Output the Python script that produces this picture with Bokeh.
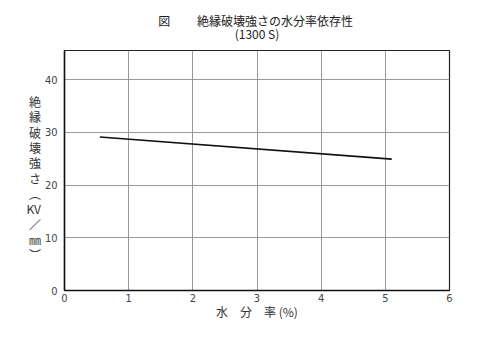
from bokeh.plotting import figure
from bokeh.models import Range1d, FixedTicker, Title
from bokeh.embed import file_html
from bokeh.resources import INLINE

water = [0.55, 5.10]
strength = [29.1, 24.9]
x_ticks = [0, 1, 2, 3, 4, 5, 6]
y_ticks = [0, 10, 20, 30, 40]
title_main = "図　　  絶縁破壊強さの水分率依存性"
title_sub = "(1300 S)"
ylabel_chars = ["絶", "縁", "破", "壊", "強", "さ", "︵", "KV", "／", "㎜", "︶"]
xlabel = "水　分　率 (%)"

JP = "Noto Sans CJK JP"
NUM = "DejaVu Sans Condensed"

p = figure(width=500, height=340, output_backend="svg", toolbar_location=None,
           title=None,
           x_range=Range1d(0, 6), y_range=Range1d(0, 45.5),
           min_border_left=64, min_border_right=51, min_border_top=0, min_border_bottom=50)
p.background_fill_color = "white"
p.border_fill_color = "white"
p.outline_line_color = "#222222"
p.outline_line_width = 1.2

for ax, ticks in ((p.xaxis, x_ticks), (p.yaxis, y_ticks)):
    ax.ticker = FixedTicker(ticks=ticks)
    ax.axis_line_color = "#111111"
    ax.axis_line_width = 1.5
    ax.major_tick_line_color = None
    ax.minor_tick_line_color = None
    ax.major_label_text_font = NUM
    ax.major_label_text_font_size = "11px"
    ax.major_label_text_color = "#444444"
    ax.axis_label_text_font = JP
    ax.axis_label_text_font_size = "12px"
    ax.axis_label_text_font_style = "normal"
    ax.axis_label_text_color = "#333333"

p.xaxis.major_label_standoff = -3
p.yaxis.major_label_standoff = 1
p.xaxis.axis_label = xlabel
p.xaxis.axis_label_standoff = -2
p.yaxis.axis_label = "\n".join([" "] + ylabel_chars)
p.yaxis.axis_label_orientation = "horizontal"
p.yaxis.axis_label_text_align = "center"
p.yaxis.axis_label_text_line_height = 0.9
p.yaxis.axis_label_standoff = 1

p.xgrid.ticker = FixedTicker(ticks=x_ticks)
p.ygrid.ticker = FixedTicker(ticks=y_ticks)
p.grid.grid_line_color = "#999999"
p.grid.grid_line_width = 1

p.line(water, strength, line_color="#111111", line_width=1.6)

title = Title(text=title_main + "\n" + title_sub, align="center", text_align="center",
              text_font=JP, text_font_size="12px", text_line_height=0.75,
              text_font_style="normal", text_color="#222222", standoff=18)
p.add_layout(title, "above")

open("out.html", "w").write(file_html(p, INLINE))
